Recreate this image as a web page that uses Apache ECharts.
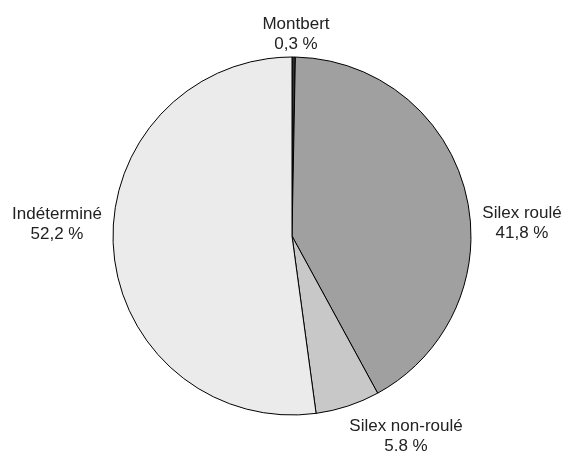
<!DOCTYPE html>
<html>
<head>
<meta charset="utf-8">
<script src="https://cdn.jsdelivr.net/npm/echarts@6/dist/echarts.min.js"></script>
<style>
  html, body { margin: 0; padding: 0; background: #fff; }
  #main { width: 564px; height: 452px; }
</style>
</head>
<body>
<div id="main"></div>
<script>
const categories = ['Montbert', 'Silex roulé', 'Silex non-roulé', 'Indéterminé'];
const values = [0.3, 41.8, 5.8, 52.2];
const labels = ['0,3 %', '41,8 %', '5.8 %', '52,2 %'];
const colors = ['#303030', '#a0a0a0', '#c8c8c8', '#ebebeb'];

const cx = 292, cy = 236;
// label offsets from pie centre
const labelDx = [4, 230, 114, -235];
const labelDy = [-202, -13, 200, -12];

const chart = echarts.init(document.getElementById('main'));
chart.setOption({
  animation: false,
  series: [{
    type: 'pie',
    center: [cx, cy],
    radius: 179,
    startAngle: 90,
    clockwise: true,
    avoidLabelOverlap: false,
    itemStyle: { borderColor: '#000', borderWidth: 1 },
    label: {
      position: 'outside',
      fontFamily: 'Liberation Sans, Arial, sans-serif',
      fontSize: 17,
      lineHeight: 20,
      color: '#222',
      align: 'center',
      formatter: p => p.name + '\n' + labels[p.dataIndex]
    },
    labelLine: { show: false },
    labelLayout: p => ({
      x: cx + labelDx[p.dataIndex],
      y: cy + labelDy[p.dataIndex],
      align: 'center',
      verticalAlign: 'middle'
    }),
    emphasis: { disabled: true },
    data: categories.map((c, i) => ({
      name: c,
      value: values[i],
      itemStyle: { color: colors[i] }
    }))
  }]
});
</script>
</body>
</html>
